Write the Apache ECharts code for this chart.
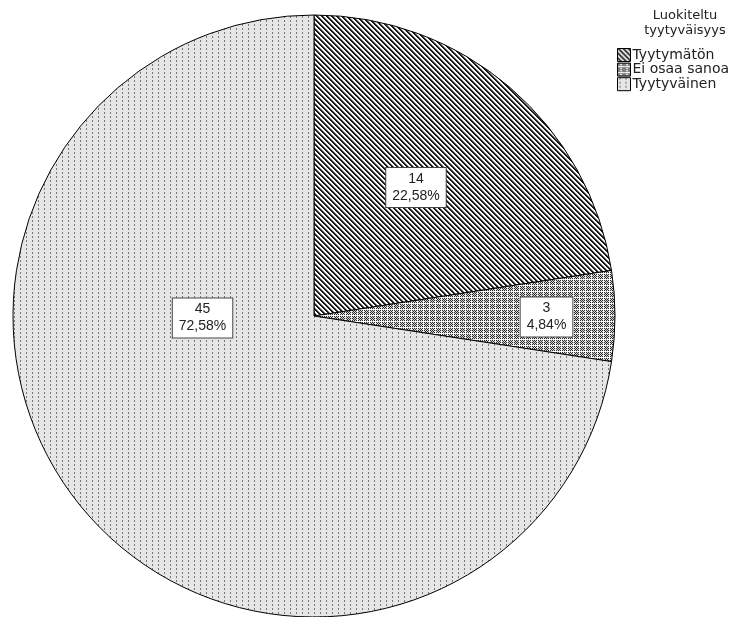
<!DOCTYPE html>
<html><head><meta charset="utf-8">
<script src="https://cdn.jsdelivr.net/npm/echarts@6/dist/echarts.min.js"></script>
<style>html,body{margin:0;padding:0;background:#fff}#c{width:749px;height:617px}</style>
</head><body><div id="c"></div>
<script>
const categories = ['Tyytymätön', 'Ei osaa sanoa', 'Tyytyväinen'];
const counts = [14, 3, 45];
const percents = ['22,58%', '4,84%', '72,58%'];
const legendTitle = 'Luokiteltu\ntyytyväisyys';

function tile(w, h, bg, fn) {
  const c = document.createElement('canvas');
  c.width = w; c.height = h;
  const g = c.getContext('2d');
  g.fillStyle = bg; g.fillRect(0, 0, w, h);
  for (let y = 0; y < h; y++) for (let x = 0; x < w; x++) {
    const col = fn(x, y);
    if (col) { g.fillStyle = col; g.fillRect(x, y, 1, 1); }
  }
  return c;
}
const diag = tile(5, 5, '#ffffff', (x, y) => {
  const m = ((x - y) % 5 + 5) % 5;
  return m === 0 || m === 1 ? '#1a1a1a' : (m === 2 ? '#8a8a8a' : null);
});
const cross = tile(6, 6, '#ffffff', (x, y) => {
  const plus = (x === 3 && y >= 1 && y <= 5) || (y === 3 && x >= 1 && x <= 5);
  if (plus) return null;
  return ((x + y) % 2 === 0) ? '#2a2a2a' : '#d8d8d8';
});
const dots = tile(6, 4, '#e6e6e6', (x, y) => {
  return (x === 2 && y <= 1) ? '#777777' : null;
});
const patterns = [diag, cross, dots];

const data = categories.map((name, i) => ({
  name, value: counts[i],
  itemStyle: { color: { image: patterns[i], repeat: 'repeat' } }
}));
const offsets = [[2, -12], [79, 1], [5, -98]];
data.forEach((d, i) => { d.label = { offset: offsets[i] }; });

const chart = echarts.init(document.getElementById('c'), null, { renderer: 'canvas' });
chart.setOption({
  animation: false,
  title: {
    text: legendTitle, left: 680, top: 3, textAlign: 'center',
    textStyle: { fontFamily: 'DejaVu Sans, sans-serif', fontSize: 13, fontWeight: 'normal', color: '#222', lineHeight: 15 }
  },
  legend: {
    orient: 'vertical', left: 617, top: 48, padding: 0, itemGap: 0.6,
    itemWidth: 13, itemHeight: 13, icon: 'rect',
    data: categories,
    textStyle: { fontFamily: 'DejaVu Sans, sans-serif', fontSize: 14, lineHeight: 13, color: '#222', padding: [0, 0, 0, -3] },
    itemStyle: { borderColor: '#000', borderWidth: 1 }
  },
  series: [{
    type: 'pie', center: [314, 316], radius: 301, startAngle: 90, clockwise: true,
    silent: true, data,
    itemStyle: { borderColor: '#000', borderWidth: 1 },
    labelLine: { show: false },
    label: {
      show: true, position: 'inside',
      formatter: p => counts[p.dataIndex] + '\n' + percents[p.dataIndex],
      fontFamily: 'Liberation Sans, Arial, sans-serif', fontSize: 14, lineHeight: 17, color: '#222',
      backgroundColor: '#fff', borderColor: '#444', borderWidth: 1, padding: [3, 6, 2, 6], align: 'center'
    }
  }]
});
</script></body></html>
